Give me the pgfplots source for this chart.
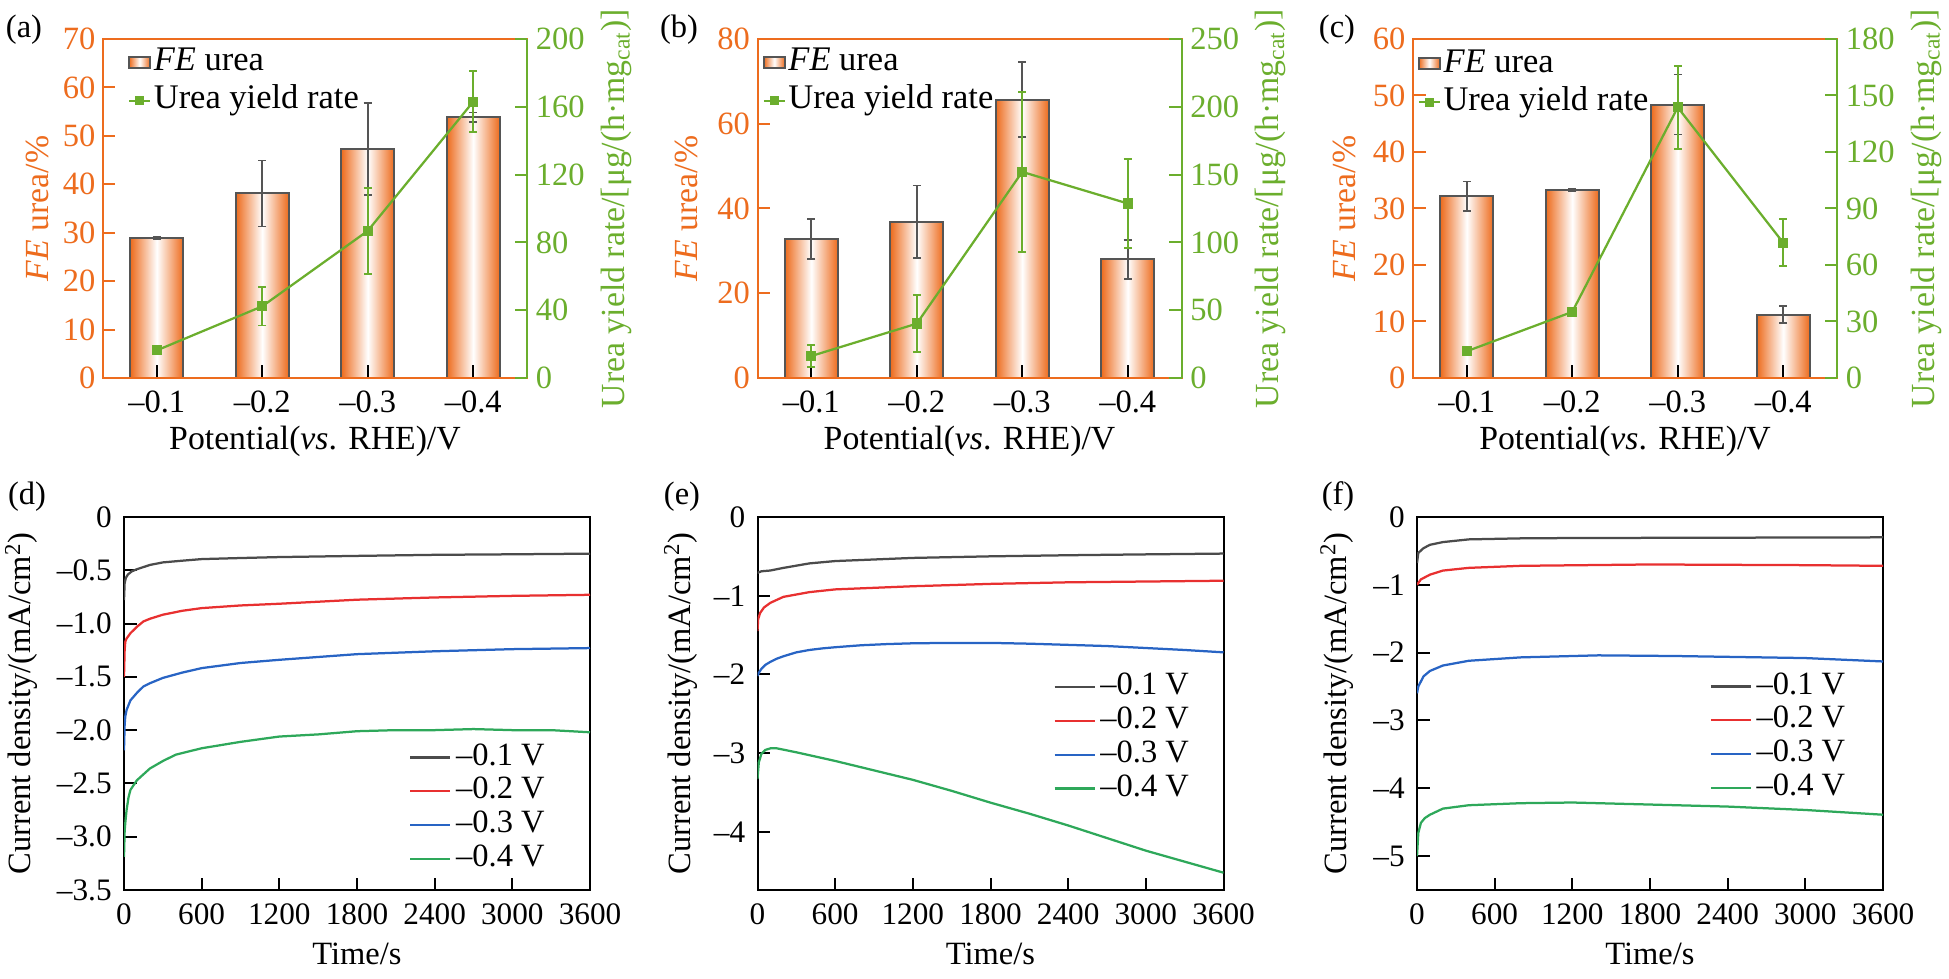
\documentclass[border=0pt]{standalone}
\usepackage{pgfplots}
\pgfplotsset{compat=1.18}
\usepackage{fontspec}
\setmainfont{Liberation Serif}
\definecolor{feor}{RGB}{237,108,30}
\definecolor{yg}{RGB}{107,174,45}
\definecolor{bargray}{RGB}{85,85,85}
\definecolor{c1}{RGB}{75,75,75}
\definecolor{c2}{RGB}{232,48,48}
\definecolor{c3}{RGB}{40,100,196}
\definecolor{c4}{RGB}{46,168,90}
\newcommand\fa{\fontsize{13}{15.5}\selectfont}
\newcommand\ft{\fontsize{13.5}{16}\selectfont}
\newcommand\flg{\fontsize{13.8}{16}\selectfont}
\newcommand\fb{\fontsize{12.5}{15}\selectfont}
\newcommand\fbl{\fontsize{13}{15.5}\selectfont}
\pgfplotsset{
  topbase/.style={scale only axis, width=169.6pt, height=135.6pt, anchor=south west,
    xmin=0.49, xmax=4.51, xtick={1,2,3,4}, xticklabels={–0.1,–0.2,–0.3,–0.4},
    tick align=inside, major tick length=5pt,
    tick label style={font=\fa}, label style={font=\ft},
    xticklabel style={yshift=-1.7pt},
    axis line style={line width=0.8pt},
    xlabel={Potential(\textit{vs}. RHE)/V},
    xlabel style={at={(axis description cs:0.5,-0.186)}, anchor=center},
  },
  barleft/.style={topbase, axis on top, xtick pos=bottom, ytick pos=left,
    x axis line style={black}, y axis line style={feor},
    xtick style={black, line width=0.8pt}, ytick style={feor, line width=0.8pt},
    yticklabel style={text=feor, xshift=0.5pt},
    ylabel={\textit{FE} urea/\%}, ylabel style={text=feor, anchor=center},
    legend cell align=left,
    legend style={draw=none, fill=none, anchor=north west, font=\flg, inner sep=0pt, row sep=0pt,
      nodes={inner sep=1pt, text height=10pt, text depth=3.4pt}},
  },
  lineright/.style={topbase, axis y line*=right, axis x line=none, xtick=\empty, xlabel={},
    y axis line style={yg}, ytick style={yg, line width=0.8pt},
    yticklabel style={text=yg},
    ylabel={Urea yield rate/[μg/(h·mg\textsubscript{cat})]},
    ylabel style={text=yg, anchor=center, at={(axis description cs:1.21,0.5)}},
  },
  barplot/.style={ybar, bar width=0.5, draw=bargray, line width=0.8pt, left color=feor, right color=feor, middle color=white, forget plot},
  barerr/.style={draw=none, forget plot, error bars/.cd, y dir=both, y explicit,
    error bar style={draw=bargray, line width=0.7pt},
    error mark options={draw=bargray, line width=0.7pt, mark size=1.6pt, rotate=90}},
  yieldplot/.style={yg, line width=0.9pt, mark=square*, mark size=1.6pt, mark options={solid, fill=yg},
    error bars/.cd, y dir=both, y explicit,
    error bar style={yg, line width=0.7pt},
    error mark options={yg, line width=0.7pt, mark size=1.6pt, rotate=90}},
  botbase/.style={scale only axis, width=186.4pt, height=149.2pt, anchor=south west,
    xmin=0, xmax=3600, xtick={0,600,1200,1800,2400,3000,3600},
    xticklabels={0,600,1200,1800,2400,3000,3600},
    tick align=inside, major tick length=5pt, xtick pos=bottom, ytick pos=left,
    tick style={black, line width=0.8pt},
    axis line style={line width=0.8pt},
    tick label style={font=\fb}, label style={font=\fbl},
    xticklabel style={yshift=-1.8pt}, yticklabel style={xshift=-1.4pt},
    xlabel={Time/s}, xlabel style={at={(axis description cs:0.5,-0.17)}, anchor=center},
    ylabel={Current density/(mA/cm\textsuperscript{2})}, ylabel style={anchor=center},
    legend cell align=left,
    legend style={draw=none, fill=none, anchor=north west, font=\fbl, inner sep=0pt, row sep=0pt, column sep=1.4pt,
      nodes={inner sep=0.5pt, text height=9.3pt, text depth=3.2pt}},
    legend image code/.code={\draw[#1] (0pt,0pt) -- (16pt,0pt);},
  },
  curve/.style={#1, line width=0.9pt},
}
\newcommand\baselegend{%
  \addlegendimage{legend image code/.code={\draw[draw=bargray, line width=0.8pt, left color=feor, right color=feor, middle color=white] (0pt,-2.2pt) rectangle (8.4pt,2.2pt);}}
  \addlegendentry{\textit{FE} urea}
  \addlegendimage{legend image code/.code={\draw[yg, line width=0.9pt] (0pt,0pt) -- (8.4pt,0pt); \draw[yg, mark=square*, mark size=1.6pt] plot coordinates {(4.2pt,0pt)};}}
  \addlegendentry{Urea yield rate}
}
\begin{document}
\begin{tikzpicture}
\path[use as bounding box] (0,0) rectangle (779.6pt,391.2pt);
% ---------- (a)
\begin{axis}[barleft, at={(41.2pt,240pt)}, ymin=0, ymax=70,
  ytick={0,10,20,30,40,50,60,70}, yticklabels={0,10,20,30,40,50,60,70},
  ylabel style={at={(axis description cs:-0.155,0.5)}},
  legend style={at={(axis description cs:0.058,0.99)}}]
\baselegend
\addplot[barplot] coordinates {(1,28.9)};
\addplot[barplot] coordinates {(2,38.1)};
\addplot[barplot] coordinates {(3,47.3)};
\addplot[barplot] coordinates {(4,53.8)};
\addplot[barerr] coordinates {(1,28.9) +- (0,0.2) (2,38.1) +- (0,6.8) (3,47.3) +- (0,9.5) (4,53.8) +- (0,1.0)};
\end{axis}
\begin{axis}[lineright, at={(41.2pt,240pt)}, ymin=0, ymax=200,
  ytick={0,40,80,120,160,200}, yticklabels={0,40,80,120,160,200}]
\addplot[yieldplot] coordinates {(1,16.3) +- (0,0.5) (2,42.3) +- (0,11.3) (3,86.8) +- (0,25.3) (4,163) +- (0,18)};
\end{axis}
% ---------- (b)
\begin{axis}[barleft, at={(303pt,240pt)}, ymin=0, ymax=80,
  ytick={0,20,40,60,80}, yticklabels={0,20,40,60,80},
  ylabel style={at={(axis description cs:-0.168,0.5)}},
  legend style={at={(axis description cs:0.011,0.99)}}]
\baselegend
\addplot[barplot] coordinates {(1,32.8)};
\addplot[barplot] coordinates {(2,36.9)};
\addplot[barplot] coordinates {(3,65.7)};
\addplot[barplot] coordinates {(4,28.0)};
\addplot[barerr] coordinates {(1,32.8) +- (0,4.75) (2,36.9) +- (0,8.5) (3,65.7) +- (0,8.8) (4,28.0) +- (0,4.6)};
\end{axis}
\begin{axis}[lineright, at={(303pt,240pt)}, ymin=0, ymax=250,
  ytick={0,50,100,150,200,250}, yticklabels={0,50,100,150,200,250}]
\addplot[yieldplot] coordinates {(1,16.2) +- (0,8.2) (2,40.1) +- (0,21) (3,152) +- (0,59) (4,128.7) +- (0,33)};
\end{axis}
% ---------- (c)
\begin{axis}[barleft, at={(565.2pt,240pt)}, ymin=0, ymax=60,
  ytick={0,10,20,30,40,50,60}, yticklabels={0,10,20,30,40,50,60},
  ylabel style={at={(axis description cs:-0.161,0.5)}},
  legend style={at={(axis description cs:0.01,0.985)}}]
\baselegend
\addplot[barplot] coordinates {(1,32.2)};
\addplot[barplot] coordinates {(2,33.3)};
\addplot[barplot] coordinates {(3,48.4)};
\addplot[barplot] coordinates {(4,11.2)};
\addplot[barerr] coordinates {(1,32.2) +- (0,2.6) (2,33.3) +- (0,0.15) (3,48.4) +- (0,5.3) (4,11.2) +- (0,1.5)};
\end{axis}
\begin{axis}[lineright, at={(565.2pt,240pt)}, ymin=0, ymax=180,
  ytick={0,30,60,90,120,150,180}, yticklabels={0,30,60,90,120,150,180}]
\addplot[yieldplot] coordinates {(1,14.2) +- (0,0.5) (2,35.1) +- (0,0.5) (3,143.7) +- (0,22) (4,71.8) +- (0,12.5)};
\end{axis}
% ---------- (d)
\begin{axis}[botbase, at={(49.6pt,35.2pt)}, ymin=-3.5, ymax=0,
  ytick={-3.5,-3,-2.5,-2,-1.5,-1,-0.5,0}, yticklabels={–3.5,–3.0,–2.5,–2.0,–1.5,–1.0,–0.5,0},
  ylabel style={at={(axis description cs:-0.22,0.5)}},
  legend style={at={(axis description cs:0.611,0.402)}}]
\addplot[curve=c1] coordinates {(0,-0.78) (5,-0.62) (15,-0.57) (30,-0.54) (60,-0.51) (100,-0.49) (150,-0.47) (200,-0.45) (300,-0.426) (450,-0.41) (600,-0.395) (900,-0.385) (1200,-0.376) (1800,-0.365) (2400,-0.355) (3000,-0.35) (3600,-0.344)};
\addlegendentry{–0.1 V}
\addplot[curve=c2] coordinates {(0,-1.5) (5,-1.25) (10,-1.17) (20,-1.14) (50,-1.09) (100,-1.03) (150,-0.98) (200,-0.955) (300,-0.917) (450,-0.88) (600,-0.855) (900,-0.83) (1200,-0.814) (1800,-0.776) (2400,-0.755) (3000,-0.74) (3600,-0.73)};
\addlegendentry{–0.2 V}
\addplot[curve=c3] coordinates {(0,-2.19) (5,-1.95) (10,-1.87) (20,-1.81) (50,-1.72) (100,-1.65) (150,-1.59) (200,-1.56) (300,-1.51) (450,-1.46) (600,-1.418) (900,-1.37) (1200,-1.34) (1800,-1.287) (2400,-1.26) (3000,-1.24) (3600,-1.23)};
\addlegendentry{–0.3 V}
\addplot[curve=c4] coordinates {(0,-3.19) (5,-2.95) (10,-2.87) (20,-2.75) (35,-2.63) (50,-2.56) (100,-2.47) (200,-2.36) (300,-2.29) (400,-2.23) (600,-2.17) (900,-2.11) (1200,-2.06) (1500,-2.04) (1800,-2.01) (2100,-2.0) (2400,-2.0) (2700,-1.99) (3000,-2.0) (3300,-2.0) (3600,-2.02)};
\addlegendentry{–0.4 V}
\end{axis}
% ---------- (e)
\begin{axis}[botbase, at={(303pt,35.2pt)}, ymin=-4.74, ymax=0,
  ytick={-4,-3,-2,-1,0}, yticklabels={–4,–3,–2,–1,0},
  ylabel style={at={(axis description cs:-0.165,0.5)}},
  legend style={at={(axis description cs:0.634,0.59)}}]
\addplot[curve=c1] coordinates {(0,-0.71) (30,-0.69) (100,-0.68) (200,-0.647) (400,-0.59) (600,-0.56) (900,-0.54) (1200,-0.52) (1800,-0.5) (2400,-0.486) (3000,-0.475) (3600,-0.465)};
\addlegendentry{–0.1 V}
\addplot[curve=c2] coordinates {(0,-1.45) (5,-1.3) (20,-1.22) (50,-1.15) (100,-1.09) (200,-1.015) (400,-0.955) (600,-0.92) (900,-0.9) (1200,-0.88) (1800,-0.85) (2400,-0.83) (3000,-0.82) (3600,-0.81)};
\addlegendentry{–0.2 V}
\addplot[curve=c3] coordinates {(0,-2.02) (10,-1.98) (30,-1.93) (60,-1.88) (100,-1.84) (150,-1.8) (200,-1.77) (300,-1.72) (400,-1.69) (500,-1.67) (600,-1.655) (800,-1.63) (1000,-1.615) (1200,-1.605) (1500,-1.6) (1800,-1.6) (2100,-1.61) (2400,-1.625) (2700,-1.64) (3000,-1.665) (3300,-1.69) (3600,-1.72)};
\addlegendentry{–0.3 V}
\addplot[curve=c4] coordinates {(0,-3.33) (10,-3.12) (30,-3.01) (60,-2.96) (100,-2.94) (150,-2.94) (300,-2.99) (600,-3.1) (900,-3.22) (1200,-3.34) (1500,-3.48) (1800,-3.63) (2100,-3.77) (2400,-3.92) (2700,-4.08) (3000,-4.24) (3300,-4.38) (3600,-4.52)};
\addlegendentry{–0.4 V}
\end{axis}
% ---------- (f)
\begin{axis}[botbase, at={(566.8pt,35.2pt)}, ymin=-5.5, ymax=0,
  ytick={-5,-4,-3,-2,-1,0}, yticklabels={–5,–4,–3,–2,–1,0},
  ylabel style={at={(axis description cs:-0.172,0.5)}},
  legend style={at={(axis description cs:0.627,0.592)}}]
\addplot[curve=c1] coordinates {(0,-0.68) (10,-0.53) (50,-0.46) (100,-0.41) (200,-0.37) (400,-0.33) (800,-0.315) (1200,-0.31) (2400,-0.305) (3600,-0.30)};
\addlegendentry{–0.1 V}
\addplot[curve=c2] coordinates {(0,-1.0) (30,-0.92) (100,-0.85) (200,-0.79) (400,-0.75) (800,-0.72) (1800,-0.70) (3000,-0.71) (3600,-0.72)};
\addlegendentry{–0.2 V}
\addplot[curve=c3] coordinates {(0,-2.6) (10,-2.5) (50,-2.35) (100,-2.27) (200,-2.19) (400,-2.12) (800,-2.07) (1400,-2.04) (2000,-2.05) (3000,-2.08) (3600,-2.13)};
\addlegendentry{–0.3 V}
\addplot[curve=c4] coordinates {(0,-5.0) (10,-4.66) (30,-4.51) (60,-4.44) (100,-4.39) (200,-4.3) (400,-4.25) (800,-4.22) (1200,-4.21) (1800,-4.24) (2400,-4.27) (3000,-4.32) (3600,-4.39)};
\addlegendentry{–0.4 V}
\end{axis}
% ---------- panel letters
\node[font=\fa] at (9.6pt,379.2pt) {(a)};
\node[font=\fa] at (271.6pt,379.2pt) {(b)};
\node[font=\fa] at (534.8pt,379.2pt) {(c)};
\node[font=\fa] at (10.8pt,192.4pt) {(d)};
\node[font=\fa] at (272.8pt,192.4pt) {(e)};
\node[font=\fa] at (535.2pt,192.4pt) {(f)};
\end{tikzpicture}
\end{document}
